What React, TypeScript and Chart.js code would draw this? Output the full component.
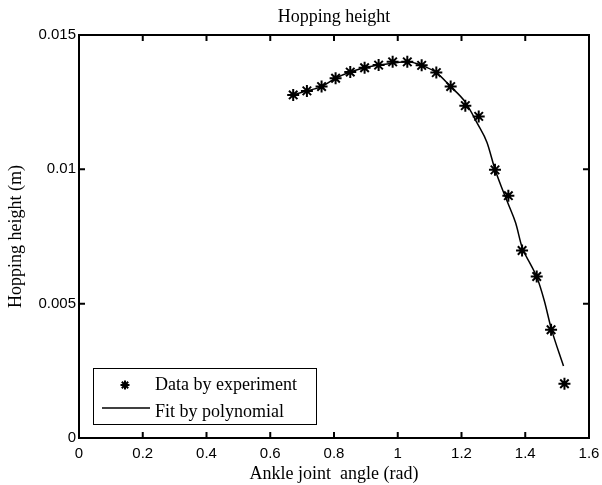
import React, { useEffect, useRef } from "react";
import { Chart, registerables } from "chart.js";

Chart.register(...registerables);

// Experimental data (rad, m)
const dataX = [0.672, 0.715, 0.761, 0.805, 0.851, 0.896, 0.94, 0.984, 1.03, 1.075, 1.121, 1.166, 1.212, 1.254, 1.305, 1.347, 1.39, 1.436, 1.481, 1.523];
const dataY = [0.01277, 0.01292, 0.01308, 0.01339, 0.01362, 0.01378, 0.01388, 0.014, 0.014, 0.01387, 0.0136, 0.01308, 0.01237, 0.01197, 0.00998, 0.00902, 0.00698, 0.00601, 0.00403, 0.00202];

// Polynomial fit curve
const fitX = [0.672, 0.715, 0.761, 0.805, 0.851, 0.896, 0.94, 0.984, 1.03, 1.075, 1.121, 1.166, 1.212, 1.25, 1.28, 1.305, 1.33, 1.347, 1.37, 1.39, 1.415, 1.436, 1.46, 1.481, 1.52];
const fitY = [0.01277, 0.01292, 0.01308, 0.01339, 0.01362, 0.01378, 0.01388, 0.01395, 0.014, 0.01387, 0.0136, 0.01308, 0.0125, 0.0117, 0.0110, 0.01, 0.0092, 0.0087, 0.008, 0.0071, 0.0065, 0.006, 0.0051, 0.0041, 0.00268];

const xTicks = [0, 0.2, 0.4, 0.6, 0.8, 1, 1.2, 1.4, 1.6];
const xTickLabels = ["0", "0.2", "0.4", "0.6", "0.8", "1", "1.2", "1.4", "1.6"];
const yTicks = [0, 0.005, 0.01, 0.015];
const yTickLabels = ["0", "0.005", "0.01", "0.015"];

const titleText = "Hopping height";
const xTitleText = "Ankle joint  angle (rad)";
const yTitleText = "Hopping height (m)";
const legendLabels = ["Data by experiment", "Fit by polynomial"];

const SERIF = "'Liberation Serif', 'DejaVu Serif', serif";
const SANS = "'Liberation Sans', Arial, sans-serif";

function drawStar(ctx: CanvasRenderingContext2D, x: number, y: number, r: number) {
  ctx.beginPath();
  ctx.moveTo(x - r, y);
  ctx.lineTo(x + r, y);
  ctx.moveTo(x, y - r);
  ctx.lineTo(x, y + r);
  const d = r * 0.707;
  ctx.moveTo(x - d, y - d);
  ctx.lineTo(x + d, y + d);
  ctx.moveTo(x - d, y + d);
  ctx.lineTo(x + d, y - d);
  ctx.stroke();
}

const framePlugin = {
  id: "frame",
  afterDraw(chart: any) {
    const { ctx, chartArea } = chart;
    const { left, right, top, bottom } = chartArea;
    const xs = chart.scales.x;
    const ys = chart.scales.y;
    ctx.save();
    ctx.strokeStyle = "#000";
    ctx.lineWidth = 2;
    ctx.strokeRect(left, top, right - left, bottom - top);
    const tl = 6;
    ctx.beginPath();
    xTicks.forEach((v) => {
      const px = xs.getPixelForValue(v);
      ctx.moveTo(px, bottom);
      ctx.lineTo(px, bottom - tl);
      ctx.moveTo(px, top);
      ctx.lineTo(px, top + tl);
    });
    yTicks.forEach((v) => {
      const py = ys.getPixelForValue(v);
      ctx.moveTo(left, py);
      ctx.lineTo(left + tl, py);
      ctx.moveTo(right, py);
      ctx.lineTo(right - tl, py);
    });
    ctx.stroke();

    // title
    ctx.fillStyle = "#000";
    ctx.font = `18px ${SERIF}`;
    ctx.textAlign = "center";
    ctx.textBaseline = "middle";
    ctx.fillText(titleText, (left + right) / 2, 17);

    // legend
    const lx = left + 14;
    const ly = bottom - 70;
    const lw = 223;
    const lh = 56;
    ctx.fillStyle = "#fff";
    ctx.fillRect(lx, ly, lw, lh);
    ctx.lineWidth = 1;
    ctx.strokeStyle = "#000";
    ctx.strokeRect(lx + 0.5, ly + 0.5, lw, lh);
    ctx.lineWidth = 2;
    drawStar(ctx, lx + 32, ly + 17, 4.5);
    ctx.lineWidth = 1.5;
    ctx.beginPath();
    ctx.moveTo(lx + 9, ly + 40);
    ctx.lineTo(lx + 57, ly + 40);
    ctx.stroke();
    ctx.fillStyle = "#000";
    ctx.font = `18px ${SERIF}`;
    ctx.textAlign = "left";
    ctx.textBaseline = "middle";
    ctx.fillText(legendLabels[0], lx + 62, ly + 17);
    ctx.fillText(legendLabels[1], lx + 62, ly + 44);
    ctx.restore();
  },
};

export default function App() {
  const ref = useRef<HTMLCanvasElement | null>(null);
  useEffect(() => {
    if (!ref.current) return;
    const chart = new Chart(ref.current, {
      type: "scatter",
      data: {
        datasets: [
          {
            label: legendLabels[1],
            type: "line",
            data: fitX.map((x, i) => ({ x, y: fitY[i] })),
            borderColor: "#000",
            borderWidth: 1.5,
            pointRadius: 0,
            fill: false,
            cubicInterpolationMode: "monotone",
          } as any,
          {
            label: legendLabels[0],
            data: dataX.map((x, i) => ({ x, y: dataY[i] })),
            pointStyle: "star",
            pointRadius: 6,
            borderColor: "#000",
            backgroundColor: "#000",
            borderWidth: 2,
          },
        ],
      },
      options: {
        animation: false,
        responsive: false,
        layout: { padding: { top: 35, right: 13, left: 0, bottom: 0 } },
        plugins: { legend: { display: false }, tooltip: { enabled: false }, title: { display: false } },
        scales: {
          x: {
            type: "linear",
            min: 0,
            max: 1.6,
            grid: { display: false, drawTicks: false },
            border: { display: false },
            afterBuildTicks: (s: any) => {
              s.ticks = xTicks.map((v) => ({ value: v }));
            },
            afterFit: (s: any) => {
              s.height = 47;
              s.paddingLeft = 0;
              s.paddingRight = 0;
            },
            ticks: {
              autoSkip: false,
              maxRotation: 0,
              padding: 7,
              color: "#000",
              font: { family: SANS, size: 15 },
              callback: (_v: any, i: number) => xTickLabels[i],
            },
            title: {
              display: true,
              text: xTitleText,
              color: "#000",
              font: { family: SERIF, size: 18 },
              padding: { top: 0, bottom: 0 },
            },
          },
          y: {
            type: "linear",
            min: 0,
            max: 0.015,
            grid: { display: false, drawTicks: false },
            border: { display: false },
            afterBuildTicks: (s: any) => {
              s.ticks = yTicks.map((v) => ({ value: v }));
            },
            afterFit: (s: any) => {
              s.width = 79;
              s.paddingTop = 0;
              s.paddingBottom = 0;
            },
            ticks: {
              autoSkip: false,
              padding: 3,
              color: "#000",
              font: { family: SANS, size: 15 },
              callback: (_v: any, i: number) => yTickLabels[i],
            },
            title: {
              display: true,
              text: yTitleText,
              color: "#000",
              font: { family: SERIF, size: 18 },
              padding: { top: 5, bottom: 0 },
            },
          },
        },
      },
      plugins: [framePlugin],
    });
    return () => chart.destroy();
  }, []);
  return (
    <div style={{ position: "absolute", left: 0, top: 0, width: 602, height: 485, background: "#fff" }}>
      <canvas ref={ref} width={602} height={485} />
    </div>
  );
}
